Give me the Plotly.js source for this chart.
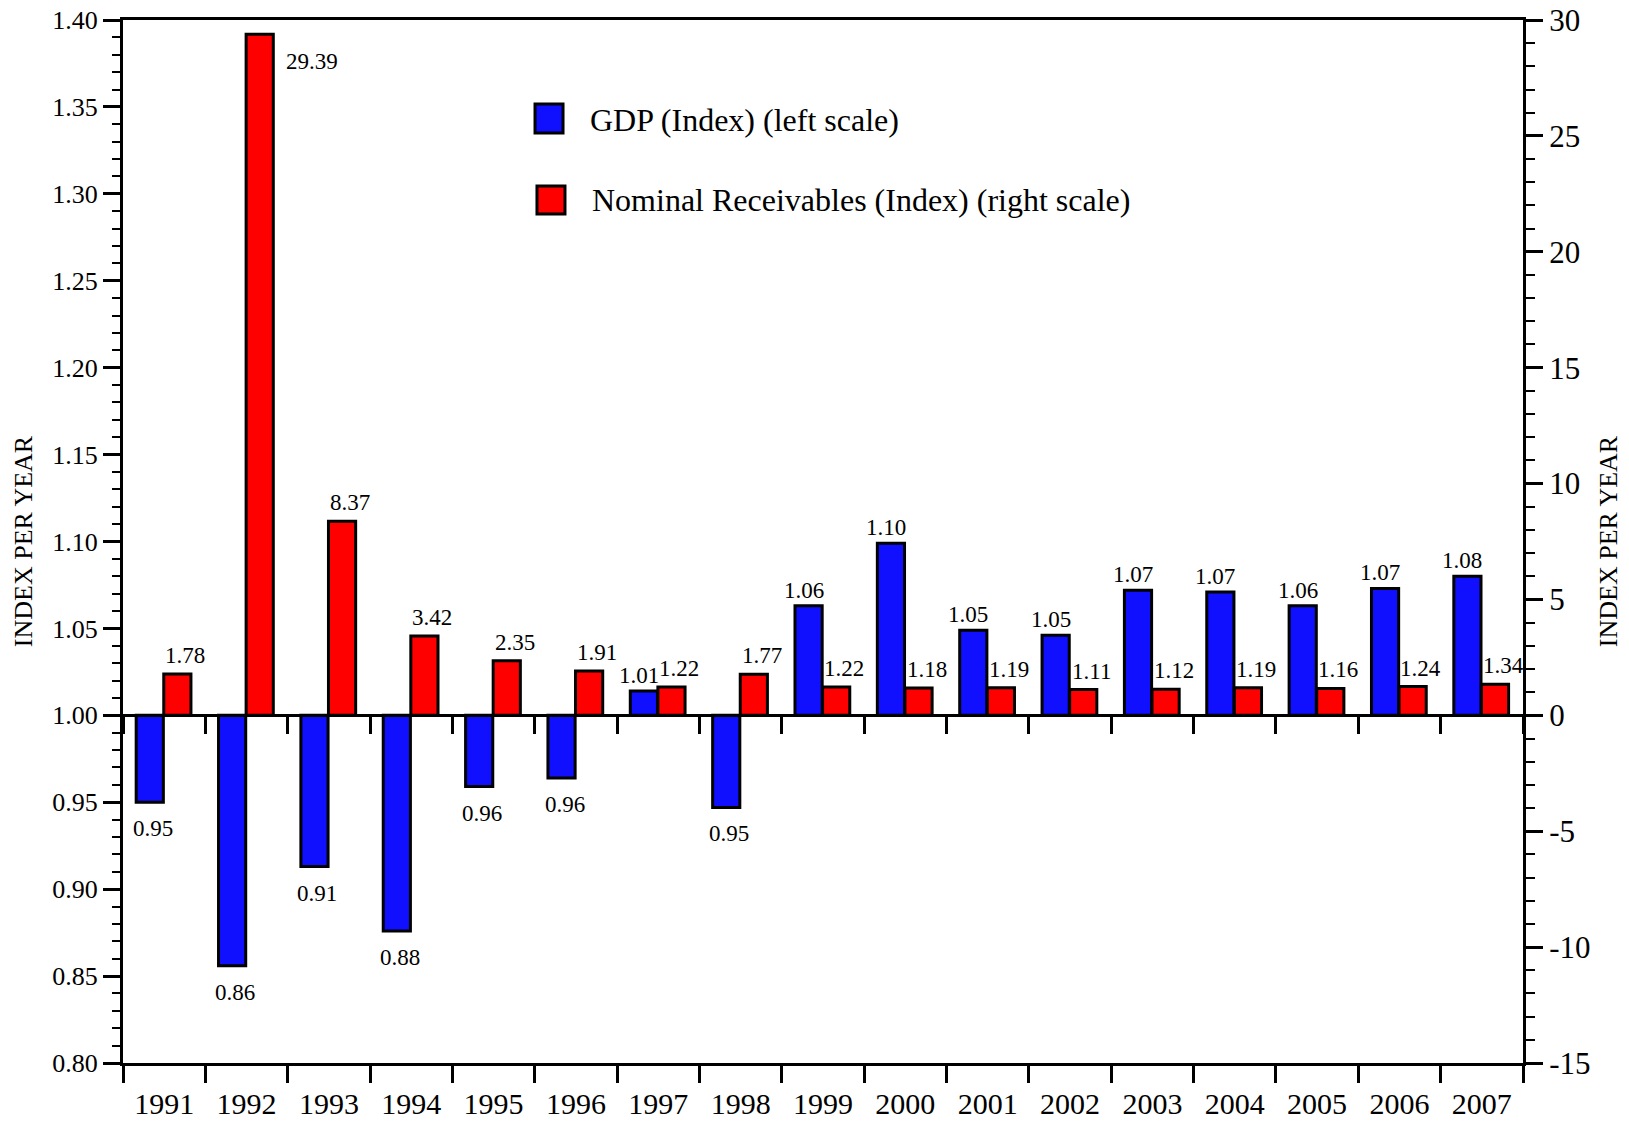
<!DOCTYPE html>
<html>
<head>
<meta charset="utf-8">
<script src="https://cdn.plot.ly/plotly-3.0.1.min.js"></script>
<style>
  html, body { margin: 0; padding: 0; background: #ffffff; }
  #chart { width: 1629px; height: 1124px; }
</style>
</head>
<body>
<div id="chart"></div>
<script>
// ---- data ----
const years = ["1991","1992","1993","1994","1995","1996","1997","1998","1999","2000","2001","2002","2003","2004","2005","2006","2007"];
const gdpIndex = [0.950, 0.856, 0.913, 0.876, 0.959, 0.964, 1.014, 0.947, 1.063, 1.099, 1.049, 1.046, 1.072, 1.071, 1.063, 1.073, 1.080];
const receivablesIndex = [1.78, 29.39, 8.37, 3.42, 2.35, 1.91, 1.22, 1.77, 1.22, 1.18, 1.19, 1.11, 1.12, 1.19, 1.16, 1.24, 1.34];
const seriesNames = ["GDP (Index) (left scale)", "Nominal Receivables (Index) (right scale)"];
const axisTitle = "INDEX PER YEAR";
const rightTickVals = [-15, -10, -5, 0, 5, 10, 15, 20, 25, 30];
const rightTickText = ["-15", "-10", "-5", "0", "5", "10", "15", "20", "25", "30"];

// ---- styles ----
const FONT = "'Liberation Serif', 'Times New Roman', serif";
const BLUE = "#1010ff";
const RED = "#ff0000";
const gdpBase = 1.0;
const barW = 0.33;
const blueOff = -0.34;
const redOff = -0.005;
const blueCenter = blueOff + barW / 2;
const redCenter = redOff + barW / 2;

const xIdx = years.map((_, i) => i);

const traces = [
  {
    type: "bar",
    name: seriesNames[0],
    x: years,
    y: gdpIndex.map(v => v - gdpBase),
    base: gdpBase,
    width: barW,
    offset: blueOff,
    xaxis: "x",
    yaxis: "y",
    marker: { color: BLUE, line: { color: "#000000", width: 3 } },
    showlegend: false,
    hoverinfo: "skip"
  },
  {
    type: "bar",
    name: seriesNames[1],
    x: years,
    y: receivablesIndex,
    width: barW,
    offset: redOff,
    xaxis: "x2",
    yaxis: "y2",
    marker: { color: RED, line: { color: "#000000", width: 3 } },
    showlegend: false,
    hoverinfo: "skip"
  }
];

const labelFont = { family: FONT, size: 23, color: "#000000" };
const annotations = [];
gdpIndex.forEach((v, i) => {
  const up = v >= gdpBase;
  annotations.push({
    xref: "x", yref: "y",
    x: xIdx[i] + blueCenter, y: v,
    text: v.toFixed(2),
    showarrow: false,
    xanchor: "center",
    yanchor: up ? "bottom" : "top",
    yshift: up ? 1 : -12,
    xshift: up ? -5 : 3,
    font: labelFont
  });
});
const y2Max = 30;
receivablesIndex.forEach((v, i) => {
  const nearTop = v > 0.9 * y2Max;
  annotations.push({
    xref: "x2", yref: "y2",
    x: xIdx[i] + redCenter, y: v,
    text: v.toFixed(2),
    showarrow: false,
    xanchor: nearTop ? "left" : "center",
    yanchor: nearTop ? "top" : "bottom",
    xshift: nearTop ? 24 : 8,
    yshift: nearTop ? -13 : 4,
    font: labelFont
  });
});

// custom legend (large square swatches)
const legendItems = [
  { name: seriesNames[0], color: BLUE, x0: 0.2943, y0: 0.8917, size: [0.020, 0.0278], ty: 0.9041, tx: 0.3320 },
  { name: seriesNames[1], color: RED, x0: 0.2957, y0: 0.8140, size: [0.020, 0.0268], ty: 0.8274, tx: 0.3334 }
];
const shapes = [];
legendItems.forEach(it => {
  shapes.push({
    type: "rect", xref: "paper", yref: "paper",
    x0: it.x0, x1: it.x0 + it.size[0], y0: it.y0, y1: it.y0 + it.size[1],
    fillcolor: it.color, line: { color: "#000000", width: 3 }
  });
  annotations.push({
    xref: "paper", yref: "paper", x: it.tx, y: it.ty,
    xanchor: "left", yanchor: "middle", showarrow: false,
    text: it.name,
    font: { family: FONT, size: 32, color: "#000000" }
  });
});

const layout = {
  width: 1629,
  height: 1124,
  margin: { l: 123, r: 106, t: 20, b: 61, pad: 0 },
  paper_bgcolor: "#ffffff",
  plot_bgcolor: "#ffffff",
  font: { family: FONT, color: "#000000" },
  showlegend: false,
  barmode: "overlay",
  xaxis: {
    type: "category",
    categoryorder: "array",
    categoryarray: years,
    range: [-0.5, years.length - 0.5],
    tickson: "boundaries",
    ticks: "outside",
    ticklen: 17,
    tickwidth: 3,
    tickcolor: "#000000",
    ticklabelstandoff: 12,
    showline: true,
    linecolor: "#000000",
    linewidth: 3,
    mirror: true,
    showgrid: false,
    zeroline: false,
    automargin: false,
    tickfont: { family: FONT, size: 30, color: "#000000" }
  },
  xaxis2: {
    type: "category",
    categoryorder: "array",
    categoryarray: years,
    overlaying: "x",
    anchor: "free",
    position: 1 / 3,
    side: "bottom",
    range: [-0.5, years.length - 0.5],
    tickson: "boundaries",
    ticks: "outside",
    ticklen: 17,
    tickwidth: 3,
    tickcolor: "#000000",
    showticklabels: false,
    showline: true,
    linecolor: "#000000",
    linewidth: 3,
    showgrid: false,
    zeroline: false,
    automargin: false
  },
  yaxis: {
    range: [0.8, 1.4],
    dtick: 0.05,
    tick0: 0.8,
    tickformat: ".2f",
    ticks: "outside",
    ticklen: 17,
    tickwidth: 3,
    tickcolor: "#000000",
    minor: { dtick: 0.01, ticks: "outside", ticklen: 8, tickwidth: 2, tickcolor: "#000000", showgrid: false },
    showline: true,
    linecolor: "#000000",
    linewidth: 3,
    showgrid: false,
    zeroline: false,
    automargin: false,
    tickfont: { family: FONT, size: 26, color: "#000000" },
    title: { text: axisTitle, standoff: 13, font: { family: FONT, size: 26, color: "#000000" } }
  },
  yaxis2: {
    overlaying: "y",
    side: "right",
    range: [-15, 30],
    tickmode: "array",
    tickvals: rightTickVals,
    ticktext: rightTickText,
    ticks: "outside",
    ticklen: 17,
    tickwidth: 3,
    tickcolor: "#000000",
    minor: { dtick: 1, tick0: 0, ticks: "outside", ticklen: 9, tickwidth: 2, tickcolor: "#000000", showgrid: false },
    showline: true,
    linecolor: "#000000",
    linewidth: 3,
    showgrid: false,
    zeroline: false,
    automargin: false,
    tickfont: { family: FONT, size: 31, color: "#000000" },
    title: { text: axisTitle, standoff: 10, font: { family: FONT, size: 26, color: "#000000" } }
  },
  annotations: annotations,
  shapes: shapes
};

Plotly.newPlot("chart", traces, layout, { displayModeBar: false, staticPlot: true });
</script>
</body>
</html>
